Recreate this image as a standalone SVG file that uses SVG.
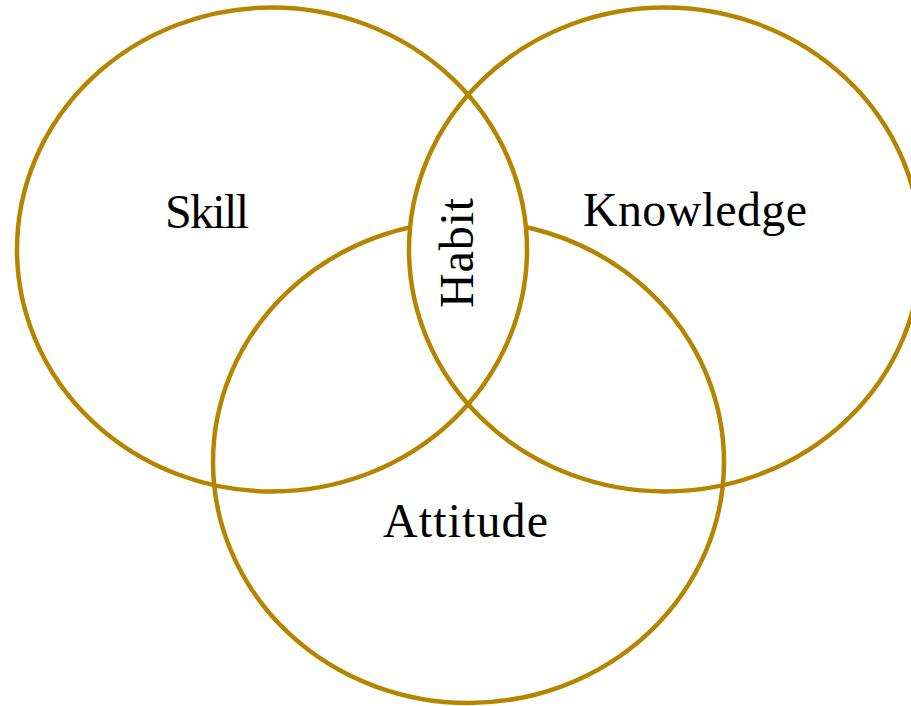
<svg xmlns="http://www.w3.org/2000/svg" width="911" height="706" viewBox="0 0 911 706">
<style>
.ring{fill:none;stroke:#B58500;stroke-width:4.5}
.lens{fill:#ffffff;stroke:none}
.lbl{font-family:"Liberation Serif","DejaVu Serif",serif;font-size:48px;fill:#000}
</style>
<rect width="911" height="706" fill="#ffffff"/>
<g id="attitude">
<ellipse class="ring" cx="468.5" cy="462" rx="255.5" ry="241"/>
<text class="lbl" x="383" y="537" textLength="165">Attitude</text>
</g>
<path class="lens" d="M468.5 95.3 A255 242 0 0 1 468.5 403.7 A256 242 0 0 1 468.5 95.3 Z"/>
<g id="skill">
<ellipse class="ring" cx="272" cy="249.5" rx="255" ry="242"/>
<text class="lbl" x="165" y="228" textLength="84">Skill</text>
</g>
<g id="knowledge">
<ellipse class="ring" cx="665" cy="249.5" rx="256" ry="242"/>
<text class="lbl" x="583" y="226" textLength="224">Knowledge</text>
</g>
<g id="habit">
<text class="lbl" transform="translate(473 308) rotate(-90)" x="0" y="0" textLength="110">Habit</text>
</g>
<g id="connectors"></g>
</svg>
